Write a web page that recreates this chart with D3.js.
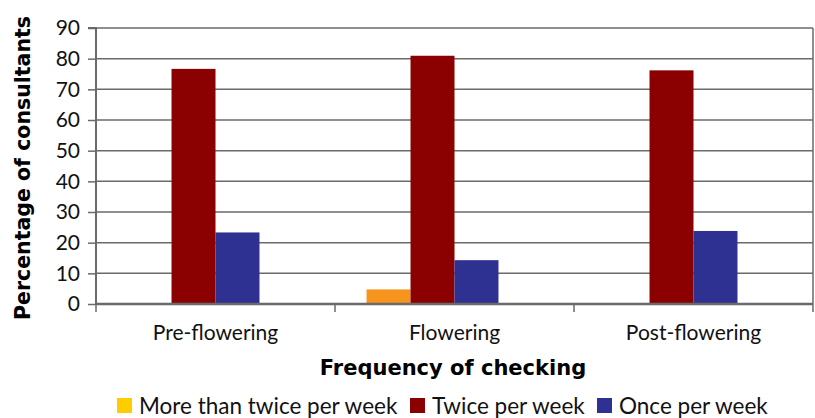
<!DOCTYPE html>
<html><head><meta charset="utf-8">
<script src="https://cdn.jsdelivr.net/npm/d3@7"></script>
<style>body{margin:0;background:#fff}</style>
</head><body><svg id="c" width="815" height="418"></svg>
<script>
const categories = ["Pre-flowering", "Flowering", "Post-flowering"];
const seriesNames = ["More than twice per week", "Twice per week", "Once per week"];
const moreThanTwice = [0, 4.76, 0];
const twice = [76.67, 80.95, 76.19];
const once = [23.33, 14.29, 23.81];
const yTicks = [0, 10, 20, 30, 40, 50, 60, 70, 80, 90];
const barColors = ["#F7941E", "#8B0000", "#2E3192"];
const legendColors = ["#FFCC00", "#8B0000", "#2E3192"];

const values = [moreThanTwice, twice, once];
const svg = d3.select("#c");
const L = 96, R = 813, T = 28, B = 304;
const y = d3.scaleLinear().domain([0, 90]).range([B, T]);
const x0 = d3.scaleBand().domain(categories).range([L, R]).paddingInner(0.264).paddingOuter(0.132);
// Excel group has an empty 4th slot
const x1 = d3.scaleBand().domain([...seriesNames, "_empty"]).range([0, x0.bandwidth()]);

// gridlines
svg.append("g").selectAll("line").data(yTicks.filter(d => d > 0)).join("line")
  .attr("x1", L).attr("x2", R).attr("y1", d => y(d)).attr("y2", d => y(d))
  .attr("stroke", "#6a6a6a").attr("stroke-width", 1.5);
// right border
svg.append("line").attr("x1", R).attr("x2", R).attr("y1", T).attr("y2", B).attr("stroke", "#6a6a6a").attr("stroke-width", 1.5);

// bars
const g = svg.append("g");
categories.forEach((c, i) => {
  seriesNames.forEach((s, j) => {
    const v = values[j][i];
    if (v > 0) g.append("rect").attr("x", x0(c) + x1(s)).attr("width", x1.bandwidth())
      .attr("y", y(v)).attr("height", y(0) - y(v)).attr("fill", barColors[j]);
  });
});

// y axis
const yAxis = d3.axisLeft(y).tickValues(yTicks).tickSize(8).tickPadding(8);
const ya = svg.append("g").attr("transform", `translate(${L},0)`).call(yAxis);
ya.select(".domain").attr("stroke", "#6a6a6a").attr("stroke-width", 2).attr("d", `M-8,${T}H0V${B}`);
ya.selectAll(".tick line").attr("stroke", "#6a6a6a").attr("stroke-width", 1.5);
ya.selectAll("text").attr("font-family", "Lato, sans-serif").attr("font-size", 21).attr("fill", "#111");

// x axis
const xa = svg.append("g").attr("transform", `translate(0,${B})`);
xa.append("line").attr("x1", L).attr("x2", R).attr("y1", 0).attr("y2", 0).attr("stroke", "#6a6a6a").attr("stroke-width", 2.5);
const step = x0.step();
const bounds = d3.range(categories.length + 1).map(i => L + i * step);
xa.selectAll("line.tk").data(bounds).join("line").attr("class", "tk")
  .attr("x1", d => d).attr("x2", d => d).attr("y1", 0).attr("y2", 8).attr("stroke", "#6a6a6a").attr("stroke-width", 1.5);
xa.selectAll("text").data(categories).join("text")
  .attr("x", d => x0(d) + x0.bandwidth() / 2).attr("y", 36).attr("text-anchor", "middle")
  .attr("font-family", "Lato, sans-serif").attr("font-size", 21).attr("fill", "#111").text(d => d);

// titles
svg.append("text").attr("x", 453).attr("y", 375).attr("text-anchor", "middle")
  .attr("font-family", "DejaVu Sans, Verdana, sans-serif").attr("font-weight", "bold").attr("font-size", 21)
  .attr("fill", "#000").text("Frequency of checking");
svg.append("text").attr("transform", "translate(30,168) rotate(-90)").attr("text-anchor", "middle")
  .attr("font-family", "DejaVu Sans, Verdana, sans-serif").attr("font-weight", "bold").attr("font-size", 20.5)
  .attr("fill", "#000").text("Percentage of consultants");

// legend
const legX = [117, 410, 597];
const lg = svg.append("g");
seriesNames.forEach((s, j) => {
  lg.append("rect").attr("x", legX[j]).attr("y", 398).attr("width", 15).attr("height", 15).attr("fill", legendColors[j]);
  lg.append("text").attr("x", legX[j] + 22).attr("y", 414).attr("font-family", "Lato, sans-serif")
    .attr("font-size", 22.5).attr("fill", "#111").text(s);
});
</script></body></html>
